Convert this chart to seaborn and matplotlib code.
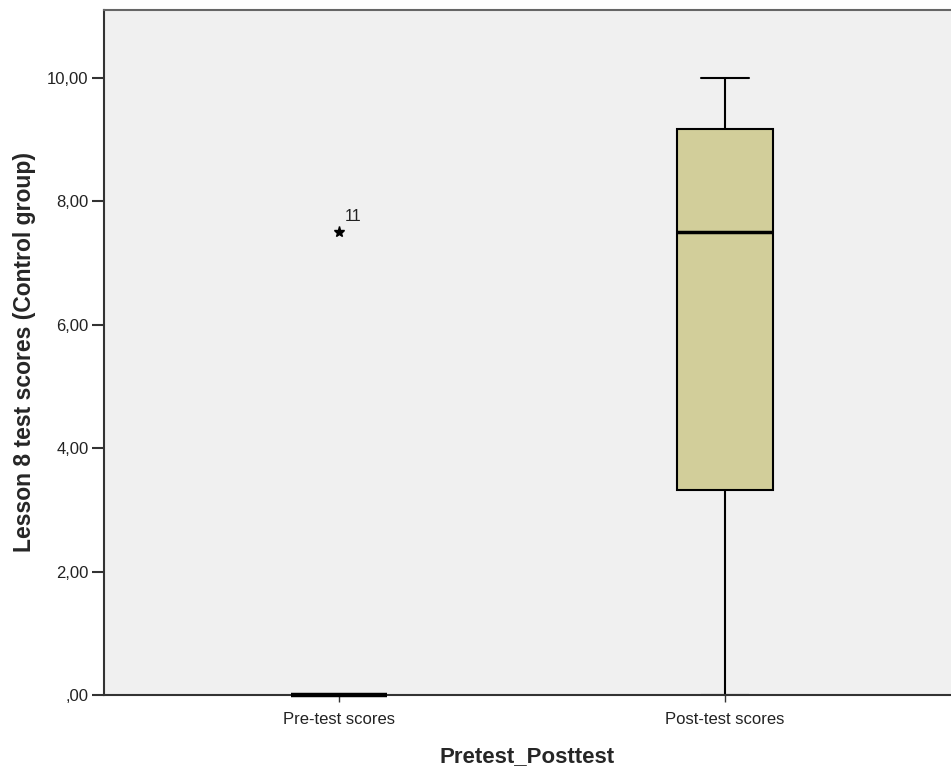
import numpy as np
import pandas as pd
import matplotlib
matplotlib.use("Agg")
import matplotlib.pyplot as plt
from matplotlib.ticker import FuncFormatter
import seaborn as sns

# ---- data ----
groups = ["Pre-test scores", "Post-test scores"]
pre_scores = [0, 0, 0, 0, 0, 0, 0, 0, 0, 0, 7.5, 0]          # case 11 = 7.5
post_scores = [0, 2.5, 3.33, 3.33, 5.0, 7.5, 7.5, 8.33, 9.17, 9.17, 10, 10]
outlier_group = "Pre-test scores"
outlier_case = 11
y_ticks = [0, 2, 4, 6, 8, 10]

df = pd.DataFrame({
    "Pretest_Posttest": [groups[0]] * len(pre_scores) + [groups[1]] * len(post_scores),
    "score": pre_scores + post_scores,
})

sns.set_style("white")
plt.rcParams["font.family"] = ["Liberation Sans", "DejaVu Sans"]

fig = plt.figure(figsize=(9.51, 7.69), dpi=100)
ax = fig.add_axes([104 / 951, 1 - 695 / 769, 1 - 104 / 951, (695 - 10) / 769])
ax.set_facecolor("#F0F0F0")

n_before = len(ax.lines)
sns.boxplot(
    data=df, x="Pretest_Posttest", y="score", order=groups,
    width=0.249, color="#D2CE9A", saturation=1, linecolor="black",
    linewidth=1.5, whis=1.5,
    flierprops=dict(marker="*", markersize=8, markerfacecolor="black",
                    markeredgecolor="black"),
    medianprops=dict(linewidth=2.5, color="black", solid_capstyle="butt"),
    ax=ax,
)

# the zero-height pre-test median should sit on top of the axis line
for ln in ax.lines[n_before:]:
    xd = np.asarray(ln.get_xdata(), dtype=float)
    yd = np.asarray(ln.get_ydata(), dtype=float)
    if xd.size == 2 and np.allclose(yd, 0) and np.isclose(xd.mean(), 0) \
            and (xd.max() - xd.min()) > 0.2:
        ln.set_clip_on(False)
        ln.set_zorder(5)
        ln.set_linewidth(3.2)

# outlier case label
gi = groups.index(outlier_group)
oval = pre_scores[outlier_case - 1]
ax.annotate(str(outlier_case), xy=(gi, oval), xytext=(4, 8),
            textcoords="offset points", fontsize=11.5, color="#222222")

ax.set_xlim(-0.609, 1.585)
ax.set_ylim(0, 11.1)
ax.set_yticks(y_ticks)


def fmt(v, pos):
    s = f"{v:.2f}".replace(".", ",")
    if s.startswith("0,"):
        s = s[1:]
    return s


ax.yaxis.set_major_formatter(FuncFormatter(fmt))
ax.tick_params(axis="y", direction="out", length=9, width=1.5, color="#333333",
               labelsize=12, labelcolor="#222222", left=True, pad=2)
ax.tick_params(axis="x", direction="out", length=5, width=1, color="#333333",
               labelsize=12, labelcolor="#222222", bottom=True, pad=7)

for side in ["left", "bottom", "top"]:
    ax.spines[side].set_visible(True)
    ax.spines[side].set_color("#333333")
    ax.spines[side].set_linewidth(1.5)
ax.spines["top"].set_color("#666666")
ax.spines["right"].set_visible(False)

ax.set_xlabel("Pretest_Posttest", fontsize=16, fontweight="bold", labelpad=14)
ax.set_ylabel("Lesson 8 test scores (Control group)", fontsize=16.5,
              fontweight="bold", labelpad=8)

fig.savefig("out.png", dpi=100, facecolor="white")
